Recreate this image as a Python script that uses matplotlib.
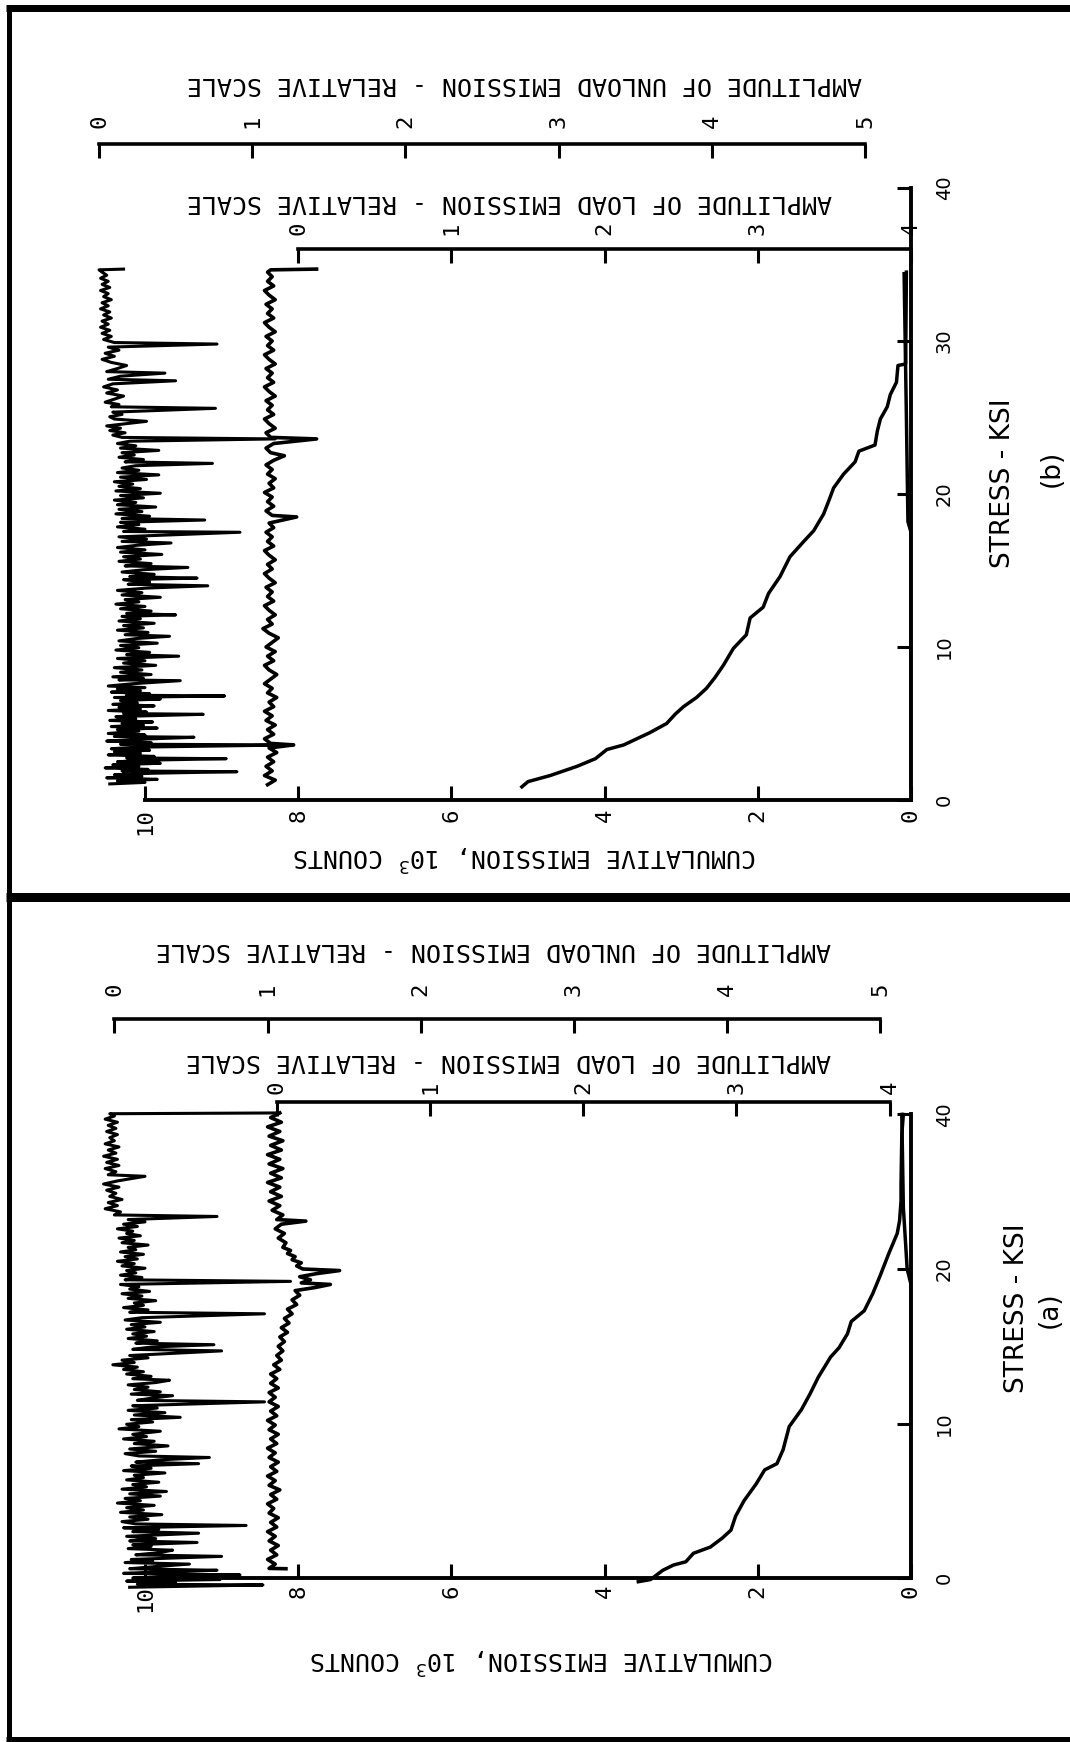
"""Acoustic emission against stress, two panels printed sideways on the page."""

import matplotlib

matplotlib.use("Agg")
import matplotlib.pyplot as plt
from matplotlib.lines import Line2D

FIG_W, FIG_H = 1070, 1742
MONO = ["DejaVu Sans Mono"]
SANS = ["DejaVu Sans"]

COUNT_TICKS = [0, 2, 4, 6, 8, 10]
UNLOAD_TICKS = [0, 1, 2, 3, 4, 5]
LOAD_TICKS = [0, 1, 2, 3, 4]
STRESS_TICKS_B = [0, 10, 20, 30, 40]
STRESS_LABELS_B = ["0", "10", "20", "30", "40"]
# panel (a) is printed with its top tick reading 40 where 30 would fall
STRESS_TICKS_A = [0, 10, 20, 30]
STRESS_LABELS_A = ["0", "10", "20", "40"]

# ---- panel (b): (stress, relative amplitude) ----
B_UNLOAD = [
    (1.05, 0.07), (1.15, 0.30), (1.25, 0.12), (1.35, 0.38), (1.45, 0.05), (1.55, 0.28),
    (1.65, 0.10), (1.75, 0.35), (1.85, 0.90), (1.9, 0.15), (2.0, 0.32), (2.1, 0.04),
    (2.2, 0.26), (2.3, 0.09), (2.4, 0.40), (2.5, 0.12), (2.6, 0.30), (2.7, 0.83),
    (2.75, 0.18), (2.85, 0.36), (2.95, 0.06), (3.05, 0.27), (3.15, 0.10), (3.25, 0.33),
    (3.35, 0.08), (3.45, 0.24), (3.6, 1.27), (3.65, 0.14), (3.75, 0.34), (3.85, 0.05),
    (3.95, 0.22), (4.1, 0.62), (4.15, 0.10), (4.25, 0.30), (4.35, 0.06), (4.5, 0.26),
    (4.6, 0.12), (4.7, 0.38), (4.8, 0.08), (4.9, 0.29), (5.0, 0.15), (5.1, 0.35),
    (5.2, 0.07), (5.3, 0.24), (5.45, 0.11), (5.6, 0.68), (5.65, 0.16), (5.75, 0.31),
    (5.85, 0.06), (5.95, 0.27), (6.05, 0.13), (6.15, 0.36), (6.25, 0.09), (6.35, 0.25),
    (6.5, 0.14), (6.6, 0.40), (6.7, 0.10), (6.8, 0.82), (6.85, 0.18), (6.95, 0.33),
    (7.05, 0.08), (7.15, 0.27), (7.25, 0.12), (7.35, 0.30), (7.45, 0.06), (7.6, 0.22),
    (7.8, 0.53), (7.85, 0.13), (7.95, 0.29), (8.05, 0.09), (8.2, 0.34), (8.35, 0.14),
    (8.5, 0.28), (8.65, 0.10), (8.8, 0.37), (8.95, 0.16), (9.1, 0.30), (9.25, 0.12),
    (9.4, 0.52), (9.5, 0.18), (9.65, 0.33), (9.8, 0.11), (9.95, 0.26), (10.1, 0.14),
    (10.25, 0.38), (10.4, 0.13), (10.55, 0.24), (10.7, 0.46), (10.8, 0.17), (10.95, 0.32),
    (11.1, 0.12), (11.25, 0.29), (11.4, 0.16), (11.55, 0.36), (11.7, 0.13), (11.85, 0.27),
    (12.0, 0.15), (12.1, 0.50), (12.2, 0.18), (12.35, 0.34), (12.5, 0.14), (12.65, 0.30),
    (12.8, 0.11), (12.95, 0.26), (13.1, 0.17), (13.25, 0.40), (13.4, 0.15), (13.55, 0.28),
    (13.7, 0.12), (13.85, 0.31), (14.0, 0.71), (14.1, 0.19), (14.25, 0.33), (14.4, 0.16),
    (14.5, 0.64), (14.6, 0.20), (14.75, 0.36), (14.9, 0.15), (15.05, 0.29), (15.2, 0.58),
    (15.3, 0.17), (15.45, 0.34), (15.6, 0.13), (15.75, 0.27), (15.9, 0.16), (16.05, 0.41),
    (16.2, 0.14), (16.35, 0.30), (16.5, 0.12), (16.65, 0.25), (16.8, 0.47), (16.9, 0.15),
    (17.05, 0.31), (17.2, 0.13), (17.5, 0.92), (17.55, 0.16), (17.7, 0.30), (17.85, 0.12),
    (18.0, 0.26), (18.15, 0.14), (18.3, 0.69), (18.4, 0.15), (18.55, 0.33), (18.7, 0.11),
    (18.85, 0.28), (19.0, 0.13), (19.15, 0.37), (19.3, 0.12), (19.45, 0.24), (19.6, 0.10),
    (19.75, 0.29), (19.9, 0.14), (20.05, 0.40), (20.2, 0.11), (20.35, 0.27), (20.5, 0.13),
    (20.65, 0.22), (20.8, 0.10), (20.95, 0.31), (21.1, 0.14), (21.25, 0.39), (21.4, 0.12),
    (21.55, 0.26), (21.7, 0.15), (21.85, 0.24), (22.0, 0.74), (22.1, 0.17), (22.25, 0.29),
    (22.4, 0.13), (22.55, 0.23), (22.7, 0.15), (22.85, 0.39), (23.0, 0.14), (23.15, 0.24),
    (23.3, 0.12), (23.45, 0.20), (23.6, 1.15), (23.7, 0.15), (23.85, 0.09), (24.0, 0.17),
    (24.15, 0.07), (24.3, 0.14), (24.45, 0.05), (24.6, 0.18), (24.75, 0.31), (24.9, 0.10),
    (25.05, 0.07), (25.2, 0.15), (25.35, 0.09), (25.6, 0.76), (25.7, 0.08), (25.85, 0.13),
    (26.0, 0.04), (26.2, 0.10), (26.4, 0.16), (26.6, 0.05), (26.8, 0.12), (27.0, 0.03),
    (27.2, 0.09), (27.4, 0.50), (27.5, 0.06), (27.7, 0.14), (27.9, 0.43), (28.0, 0.05),
    (28.2, 0.12), (28.4, 0.18), (28.6, 0.08), (28.8, 0.02), (29.0, 0.10), (29.2, 0.04),
    (29.4, 0.13), (29.6, 0.06), (29.8, 0.77), (29.9, 0.10), (30.1, 0.03), (30.3, 0.08),
    (30.5, 0.02), (30.7, 0.07), (30.9, 0.01), (31.1, 0.06), (31.3, 0.02), (31.5, 0.08),
    (31.7, 0.03), (31.9, 0.07), (32.1, 0.01), (32.3, 0.06), (32.5, 0.02), (32.7, 0.08),
    (32.9, 0.03), (33.1, 0.06), (33.3, 0.01), (33.5, 0.07), (33.7, 0.02), (33.9, 0.06),
    (34.1, 0.01), (34.3, 0.05), (34.5, 0.02), (34.65, 0.0), (34.7, 0.16),
]
B_LOAD = [
    (1.0, -0.20), (1.3, -0.15), (1.6, -0.22), (1.9, -0.17), (2.2, -0.21), (2.5, -0.16),
    (2.8, -0.20), (3.1, -0.14), (3.4, -0.19), (3.6, -0.03), (3.7, -0.18), (4.0, -0.22),
    (4.3, -0.16), (4.6, -0.20), (4.9, -0.15), (5.2, -0.21), (5.5, -0.17), (5.8, -0.22),
    (6.1, -0.16), (6.4, -0.19), (6.7, -0.14), (7.0, -0.20), (7.3, -0.17), (7.6, -0.22),
    (7.9, -0.18), (8.2, -0.14), (8.5, -0.19), (8.8, -0.22), (9.1, -0.16), (9.4, -0.20),
    (9.7, -0.15), (10.0, -0.21), (10.3, -0.17), (10.6, -0.13), (10.9, -0.19), (11.2, -0.23),
    (11.5, -0.17), (11.8, -0.20), (12.1, -0.15), (12.4, -0.19), (12.7, -0.22), (13.0, -0.16),
    (13.3, -0.20), (13.6, -0.17), (13.9, -0.21), (14.2, -0.15), (14.5, -0.19), (14.8, -0.22),
    (15.1, -0.17), (15.4, -0.20), (15.7, -0.15), (16.0, -0.19), (16.3, -0.22), (16.6, -0.16),
    (16.9, -0.20), (17.2, -0.17), (17.5, -0.21), (17.8, -0.16), (18.1, -0.19), (18.5, -0.01),
    (18.6, -0.17), (18.9, -0.21), (19.2, -0.16), (19.5, -0.20), (19.8, -0.17), (20.1, -0.22),
    (20.4, -0.16), (20.7, -0.19), (21.0, -0.15), (21.3, -0.20), (21.6, -0.17), (21.9, -0.21),
    (22.2, -0.16), (22.5, -0.09), (22.7, -0.18), (23.0, -0.21), (23.3, -0.16), (23.6, 0.12),
    (23.7, -0.18), (24.0, -0.21), (24.3, -0.15), (24.6, -0.19), (24.9, -0.22), (25.2, -0.16),
    (25.5, -0.20), (25.8, -0.17), (26.1, -0.21), (26.4, -0.15), (26.7, -0.19), (27.0, -0.22),
    (27.3, -0.16), (27.6, -0.20), (27.9, -0.17), (28.2, -0.21), (28.5, -0.15), (28.8, -0.19),
    (29.1, -0.22), (29.4, -0.16), (29.7, -0.20), (30.0, -0.17), (30.3, -0.21), (30.6, -0.15),
    (30.9, -0.19), (31.2, -0.22), (31.5, -0.16), (31.8, -0.20), (32.1, -0.17), (32.4, -0.21),
    (32.7, -0.15), (33.0, -0.19), (33.3, -0.22), (33.6, -0.16), (33.9, -0.20), (34.2, -0.17),
    (34.5, -0.20), (34.65, -0.18), (34.7, 0.12),
]
# (stress, cumulative counts x 1000)
B_CUMULATIVE = [
    (0.86, 5.08), (1.2, 5.0), (1.6, 4.71), (2.2, 4.36), (2.7, 4.12), (3.3, 3.97),
    (3.6, 3.75), (4.4, 3.41), (5.0, 3.19), (5.6, 3.08), (6.1, 2.97), (6.7, 2.80),
    (7.3, 2.67), (8.0, 2.56), (8.8, 2.45), (9.9, 2.32), (10.8, 2.15), (11.9, 2.10),
    (12.6, 1.93), (13.5, 1.86), (14.6, 1.71), (15.9, 1.58), (16.9, 1.40), (17.6, 1.27),
    (18.7, 1.14), (19.6, 1.07), (20.4, 1.01), (21.3, 0.88), (22.1, 0.73), (22.8, 0.68),
    (23.2, 0.47), (24.1, 0.44), (24.9, 0.40), (25.7, 0.31), (26.5, 0.27), (27.3, 0.19),
    (28.4, 0.17), (28.5, 0.07), (34.5, 0.06),
]
B_CUMULATIVE_LOW = [(0.9, 0.0), (17.5, 0.0), (18.2, 0.04), (25.0, 0.06), (34.4, 0.09)]

# ---- panel (a): (stress, relative amplitude) ----
A_UNLOAD = [
    (-0.6, 0.10), (-0.45, 0.97), (-0.4, 0.15), (-0.3, 0.40), (-0.2, 0.08), (-0.1, 0.69),
    (0.0, 0.12), (0.1, 0.35), (0.2, 0.82), (0.3, 0.06), (0.4, 0.30), (0.5, 0.67),
    (0.6, 0.10), (0.75, 0.28), (0.9, 0.49), (1.0, 0.07), (1.1, 0.25), (1.2, 0.11),
    (1.4, 0.70), (1.5, 0.14), (1.65, 0.30), (1.8, 0.38), (1.9, 0.09), (2.05, 0.24),
    (2.15, 0.12), (2.3, 0.54), (2.4, 0.10), (2.55, 0.27), (2.7, 0.08), (2.9, 0.55),
    (3.0, 0.12), (3.15, 0.29), (3.25, 0.06), (3.4, 0.86), (3.5, 0.14), (3.65, 0.05),
    (3.8, 0.22), (3.95, 0.10), (4.1, 0.31), (4.25, 0.04), (4.4, 0.19), (4.55, 0.08),
    (4.7, 0.26), (4.85, 0.02), (5.0, 0.17), (5.15, 0.07), (5.3, 0.30), (5.45, 0.10),
    (5.6, 0.34), (5.75, 0.05), (5.9, 0.21), (6.05, 0.12), (6.2, 0.29), (6.35, 0.08),
    (6.5, 0.19), (6.65, 0.13), (6.8, 0.33), (6.95, 0.06), (7.1, 0.24), (7.25, 0.11),
    (7.4, 0.55), (7.5, 0.14), (7.65, 0.30), (7.8, 0.62), (7.9, 0.16), (8.05, 0.07),
    (8.2, 0.27), (8.35, 0.10), (8.55, 0.35), (8.7, 0.13), (8.85, 0.26), (9.0, 0.06),
    (9.15, 0.21), (9.3, 0.12), (9.5, 0.30), (9.65, 0.03), (9.8, 0.16), (9.95, 0.08),
    (10.1, 0.25), (10.25, 0.11), (10.4, 0.43), (10.55, 0.13), (10.7, 0.33), (10.85, 0.09),
    (11.0, 0.28), (11.15, 0.12), (11.4, 0.98), (11.5, 0.15), (11.65, 0.25), (11.8, 0.38),
    (11.9, 0.11), (12.05, 0.30), (12.2, 0.13), (12.35, 0.22), (12.5, 0.09), (12.65, 0.27),
    (12.8, 0.36), (12.9, 0.12), (13.05, 0.24), (13.2, 0.08), (13.35, 0.19), (13.5, 0.06),
    (13.65, 0.15), (13.8, -0.01), (13.95, 0.13), (14.1, 0.05), (14.25, 0.22), (14.4, 0.10),
    (14.7, 0.70), (14.8, 0.12), (14.95, 0.24), (15.1, 0.65), (15.2, 0.14), (15.35, 0.28),
    (15.5, 0.09), (15.65, 0.21), (15.8, 0.12), (15.95, 0.26), (16.1, 0.08), (16.25, 0.20),
    (16.4, 0.11), (16.55, 0.30), (16.7, 0.07), (16.85, 0.18), (17.1, 0.98), (17.2, 0.10),
    (17.35, 0.22), (17.5, 0.06), (17.65, 0.19), (17.8, 0.13), (17.95, 0.27), (18.1, 0.09),
    (18.25, 0.18), (18.4, 0.05), (18.55, 0.23), (18.7, 0.10), (18.85, 0.16), (19.0, 0.04),
    (19.2, 1.15), (19.3, 0.07), (19.45, 0.18), (19.6, 0.04), (19.75, 0.14), (19.9, 0.08),
    (20.05, 0.20), (20.2, 0.05), (20.35, 0.13), (20.5, 0.02), (20.65, 0.15), (20.8, 0.07),
    (20.95, 0.19), (21.1, 0.04), (21.25, 0.14), (21.4, 0.09), (21.55, 0.22), (21.7, 0.05),
    (21.85, 0.13), (22.0, 0.03), (22.15, 0.17), (22.3, 0.08), (22.45, 0.12), (22.6, 0.02),
    (22.75, 0.15), (22.9, 0.06), (23.05, 0.20), (23.2, 0.09), (23.4, 0.67), (23.5, 0.00),
    (23.7, 0.04), (23.9, -0.06), (24.1, 0.02), (24.3, -0.04), (24.5, 0.05), (24.7, -0.03),
    (24.9, 0.01), (25.1, -0.05), (25.3, 0.03), (25.5, -0.07), (25.7, 0.02), (26.0, 0.20),
    (26.1, -0.04), (26.3, 0.01), (26.5, -0.06), (26.7, 0.03), (26.9, -0.05), (27.1, 0.02),
    (27.3, -0.07), (27.5, 0.01), (27.7, -0.04), (27.9, 0.03), (28.1, -0.06), (28.3, 0.00),
    (28.5, -0.03), (28.7, 0.02), (28.9, -0.05), (29.1, 0.01), (29.3, -0.04), (29.5, 0.02),
    (29.7, -0.06), (29.9, 0.00), (30.05, -0.03), (30.1, 1.06),
]
A_LOAD = [
    (0.6, 0.06), (0.62, -0.05), (0.9, -0.01), (1.2, -0.06), (1.5, 0.0), (1.8, -0.04),
    (2.1, 0.01), (2.4, -0.05), (2.7, -0.01), (3.0, -0.06), (3.3, 0.0), (3.6, -0.04),
    (3.9, 0.01), (4.2, -0.05), (4.5, -0.02), (4.8, -0.06), (5.1, 0.0), (5.4, -0.04),
    (5.7, 0.02), (6.0, -0.05), (6.3, -0.01), (6.6, -0.06), (6.9, 0.0), (7.2, -0.04),
    (7.5, 0.01), (7.8, -0.05), (8.1, -0.01), (8.4, -0.06), (8.7, 0.0), (9.0, -0.04),
    (9.3, 0.01), (9.6, -0.05), (9.9, -0.01), (10.2, -0.06), (10.5, 0.0), (10.8, -0.04),
    (11.1, 0.01), (11.4, -0.05), (11.7, -0.01), (12.0, -0.05), (12.3, 0.01), (12.6, -0.04),
    (12.9, 0.0), (13.2, -0.04), (13.5, 0.02), (13.8, -0.02), (14.1, 0.03), (14.4, 0.0),
    (14.7, 0.04), (15.0, 0.01), (15.3, 0.05), (15.6, 0.02), (15.9, 0.07), (16.2, 0.03),
    (16.5, 0.08), (16.8, 0.05), (17.1, 0.10), (17.4, 0.07), (17.7, 0.13), (18.0, 0.10),
    (18.3, 0.15), (18.6, 0.12), (18.8, 0.25), (19.0, 0.35), (19.1, 0.16), (19.3, 0.22),
    (19.5, 0.15), (19.7, 0.26), (19.9, 0.41), (20.0, 0.17), (20.2, 0.13), (20.4, 0.16),
    (20.6, 0.10), (20.8, 0.12), (21.0, 0.07), (21.2, 0.09), (21.4, 0.04), (21.7, 0.06),
    (22.0, 0.01), (22.3, 0.05), (22.6, -0.01), (22.9, 0.03), (23.1, 0.19), (23.2, 0.0),
    (23.5, 0.04), (23.8, -0.03), (24.1, 0.02), (24.4, -0.05), (24.7, 0.03), (25.0, -0.04),
    (25.3, 0.02), (25.6, -0.06), (25.9, 0.03), (26.2, -0.04), (26.5, 0.04), (26.8, -0.05),
    (27.1, 0.02), (27.4, -0.06), (27.7, 0.03), (28.0, -0.04), (28.3, 0.04), (28.6, -0.05),
    (28.9, 0.02), (29.2, -0.06), (29.5, 0.03), (29.8, -0.04), (30.1, 0.02),
]
A_CUMULATIVE = [
    (-0.24, 3.56), (-0.1, 3.40), (0.5, 3.24), (0.84, 3.10), (1.05, 2.94), (1.6, 2.84),
    (2.0, 2.62), (2.6, 2.46), (3.1, 2.35), (4.0, 2.29), (5.0, 2.18), (6.1, 2.02),
    (7.0, 1.91), (7.4, 1.75), (8.3, 1.67), (9.8, 1.59), (10.9, 1.43), (11.9, 1.32),
    (13.0, 1.21), (14.3, 1.05), (14.9, 0.94), (15.8, 0.83), (16.6, 0.78), (17.3, 0.61),
    (18.4, 0.50), (19.6, 0.40), (21.0, 0.29), (22.3, 0.18), (23.1, 0.15), (24.4, 0.13),
    (25.5, 0.13), (28.7, 0.12), (30.0, 0.10),
]
A_CUMULATIVE_LOW = [(0.0, 0.0), (19.0, 0.0), (20.0, 0.05), (24.0, 0.10), (30.0, 0.12)]

# ---- page geometry, in pixels of the scanned page ----
PANELS = {
    "b": dict(
        x_zero=911, px_per_count=76.6, y_zero=800, px_per_stress=15.3,
        xlim=(11, 0), ylim=(-1, 40), stress_top=40,
        stress_ticks=STRESS_TICKS_B, stress_labels=STRESS_LABELS_B,
        unload_zero=10.6, unload_at=42.9, load_zero=8.0, load_at=36.0,
        unload_pad=11, unload_labelpad=17, load_pad=10, load_labelpad=9,
        count_pad=6, count_labelpad=5, stress_pad=17, stress_labelpad=26,
        unload_label_x=0.541, load_label_x=0.523, count_label_x=0.542,
        stress_label_y=0.53, tag="(b)", tag_xy=(1052, 468),
        unload=B_UNLOAD, load=B_LOAD, cum=B_CUMULATIVE, cum_low=B_CUMULATIVE_LOW,
    ),
    "a": dict(
        x_zero=911, px_per_count=76.6, y_zero=1578, px_per_stress=15.45,
        xlim=(11, 0), ylim=(-1, 32), stress_top=30,
        stress_ticks=STRESS_TICKS_A, stress_labels=STRESS_LABELS_A,
        unload_zero=10.4, unload_at=36.2, load_zero=8.28, load_at=30.8,
        unload_pad=16, unload_labelpad=19, load_pad=6, load_labelpad=9,
        count_pad=5, count_labelpad=24, stress_pad=17, stress_labelpad=36,
        unload_label_x=0.504, load_label_x=0.522, count_label_x=0.562,
        stress_label_y=0.56, tag="(a)", tag_xy=(1050, 1310),
        unload=A_UNLOAD, load=A_LOAD, cum=A_CUMULATIVE, cum_low=A_CUMULATIVE_LOW,
    ),
}


def axes_rect(p):
    left = p["x_zero"] - p["xlim"][0] * p["px_per_count"]
    right = p["x_zero"] - p["xlim"][1] * p["px_per_count"]
    top = p["y_zero"] - p["ylim"][1] * p["px_per_stress"]
    bottom = p["y_zero"] - p["ylim"][0] * p["px_per_stress"]
    return [left / FIG_W, 1 - bottom / FIG_H, (right - left) / FIG_W, (bottom - top) / FIG_H]


def amplitude_axis(ax, zero, spine_at, ticks, label, pad, labelpad, label_x):
    # the amplitude scales run two counts per unit, opposite way to the count scale
    twin = ax.twiny()
    c_left, c_right = ax.get_xlim()
    twin.set_xlim((zero - c_left) / 2, (zero - c_right) / 2)
    for side in ("left", "right", "bottom"):
        twin.spines[side].set_visible(False)
    spine = twin.spines["top"]
    spine.set_position(("data", spine_at))
    spine.set_bounds(ticks[0], ticks[-1])
    spine.set_linewidth(2.6)
    twin.set_xticks(ticks, [str(t) for t in ticks], rotation=90, fontsize=16, family=MONO)
    twin.tick_params(axis="x", direction="in", length=10, width=2.2, pad=pad)
    twin.set_xlabel(label, rotation=180, fontsize=18, family=MONO, labelpad=labelpad)
    twin.xaxis.label.set_x(label_x)
    return twin


def draw_panel(fig, p):
    ax = fig.add_axes(axes_rect(p))
    ax.set_xlim(*p["xlim"])
    ax.set_ylim(*p["ylim"])
    ax.patch.set_visible(False)
    ax.spines["top"].set_visible(False)
    ax.spines["left"].set_visible(False)
    ax.spines["bottom"].set_position(("data", 0))
    ax.spines["bottom"].set_bounds(0, 10)
    ax.spines["right"].set_bounds(0, p["stress_top"])
    for side in ("bottom", "right"):
        ax.spines[side].set_linewidth(2.8)

    ax.yaxis.tick_right()
    ax.yaxis.set_label_position("right")
    ax.set_xticks(COUNT_TICKS, [str(t) for t in COUNT_TICKS], rotation=90, fontsize=16, family=MONO)
    ax.set_yticks(p["stress_ticks"], p["stress_labels"], rotation=90, va="center", fontsize=14, family=SANS)
    ax.tick_params(direction="in", length=10, width=2.2)
    ax.tick_params(axis="x", pad=p["count_pad"])
    ax.tick_params(axis="y", pad=p["stress_pad"])
    ax.set_xlabel(r"CUMULATIVE EMISSION, 10$^3$ COUNTS", rotation=180, fontsize=18, family=MONO,
                  labelpad=p["count_labelpad"])
    ax.xaxis.label.set_x(p["count_label_x"])
    ax.set_ylabel("STRESS - KSI", fontsize=19, family=SANS, labelpad=p["stress_labelpad"])
    ax.yaxis.label.set_y(p["stress_label_y"])

    stress, counts = zip(*p["cum"])
    ax.plot(counts, stress, color="black", linewidth=2.5)
    stress, counts = zip(*p["cum_low"])
    ax.plot(counts, stress, color="black", linewidth=2.5)

    unload_ax = amplitude_axis(ax, p["unload_zero"], p["unload_at"], UNLOAD_TICKS,
                               "AMPLITUDE OF UNLOAD EMISSION - RELATIVE SCALE",
                               p["unload_pad"], p["unload_labelpad"], p["unload_label_x"])
    stress, amp = zip(*p["unload"])
    unload_ax.plot(amp, stress, color="black", linewidth=2.2)

    load_ax = amplitude_axis(ax, p["load_zero"], p["load_at"], LOAD_TICKS,
                             "AMPLITUDE OF LOAD EMISSION - RELATIVE SCALE",
                             p["load_pad"], p["load_labelpad"], p["load_label_x"])
    stress, amp = zip(*p["load"])
    load_ax.plot(amp, stress, color="black", linewidth=2.6)

    fig.text(p["tag_xy"][0] / FIG_W, 1 - p["tag_xy"][1] / FIG_H, p["tag"], rotation=90,
             ha="center", va="center", fontsize=19, family=SANS)


def frame_line(fig, x0, y0, x1, y1, width_px):
    fig.add_artist(Line2D([x0 / FIG_W, x1 / FIG_W], [1 - y0 / FIG_H, 1 - y1 / FIG_H],
                          transform=fig.transFigure, color="black", linewidth=width_px * 0.72,
                          solid_capstyle="butt"))


def main():
    fig = plt.figure(figsize=(FIG_W / 100, FIG_H / 100), dpi=100)
    for key in ("b", "a"):
        draw_panel(fig, PANELS[key])
    frame_line(fig, 6, 8, FIG_W, 8, 7)
    frame_line(fig, 6, 897, FIG_W, 897, 9)
    frame_line(fig, 6, 1739, FIG_W, 1739, 5)
    frame_line(fig, 9, 5, 9, FIG_H, 5)
    fig.savefig("out.png", dpi=100)


if __name__ == "__main__":
    main()
